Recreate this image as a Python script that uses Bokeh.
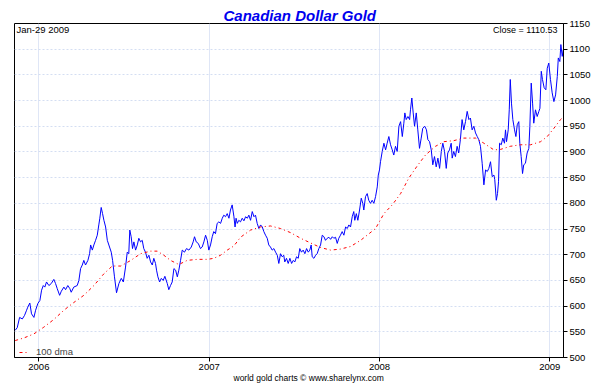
from bokeh.plotting import figure
from bokeh.models import Range1d, FixedTicker, Label, BoxAnnotation, Legend, LegendItem, Title
from bokeh.embed import file_html
from bokeh.resources import INLINE

# ---- data (decimal years, CAD per ounce) ----
t_gold = [2005.861, 2005.873, 2005.887, 2005.903, 2005.916, 2005.928, 2005.935, 2005.947, 2005.957, 2005.971,
          2005.981, 2005.994, 2006.006, 2006.016, 2006.026, 2006.035, 2006.045, 2006.059, 2006.073, 2006.088,
          2006.098, 2006.108, 2006.122, 2006.132, 2006.147, 2006.157, 2006.170, 2006.182, 2006.190, 2006.205,
          2006.225, 2006.235, 2006.245, 2006.255, 2006.264, 2006.274, 2006.288, 2006.298, 2006.304, 2006.314,
          2006.323, 2006.333, 2006.343, 2006.352, 2006.358, 2006.366, 2006.374, 2006.382, 2006.392, 2006.402,
          2006.413, 2006.425, 2006.433, 2006.444, 2006.456, 2006.470, 2006.484, 2006.496, 2006.509, 2006.519,
          2006.528, 2006.534, 2006.542, 2006.550, 2006.558, 2006.568, 2006.578, 2006.587, 2006.597, 2006.607,
          2006.616, 2006.626, 2006.636, 2006.646, 2006.656, 2006.666, 2006.675, 2006.685, 2006.691, 2006.699,
          2006.709, 2006.719, 2006.730, 2006.740, 2006.754, 2006.763, 2006.773, 2006.783, 2006.793, 2006.803,
          2006.813, 2006.822, 2006.832, 2006.842, 2006.855, 2006.867, 2006.881, 2006.895, 2006.906, 2006.914,
          2006.924, 2006.936, 2006.949, 2006.959, 2006.969, 2006.979, 2006.989, 2006.998, 2007.008, 2007.018,
          2007.027, 2007.037, 2007.047, 2007.057, 2007.067, 2007.077, 2007.086, 2007.096, 2007.106, 2007.116,
          2007.125, 2007.135, 2007.145, 2007.152, 2007.158, 2007.165, 2007.174, 2007.184, 2007.194, 2007.204,
          2007.214, 2007.224, 2007.233, 2007.243, 2007.253, 2007.263, 2007.272, 2007.282, 2007.292, 2007.302,
          2007.312, 2007.321, 2007.331, 2007.341, 2007.350, 2007.360, 2007.370, 2007.380, 2007.390, 2007.400,
          2007.409, 2007.419, 2007.429, 2007.438, 2007.444, 2007.454, 2007.464, 2007.474, 2007.484, 2007.494,
          2007.503, 2007.513, 2007.523, 2007.532, 2007.542, 2007.552, 2007.562, 2007.572, 2007.582, 2007.591,
          2007.599, 2007.605, 2007.615, 2007.625, 2007.634, 2007.644, 2007.654, 2007.664, 2007.674, 2007.683,
          2007.693, 2007.703, 2007.713, 2007.723, 2007.732, 2007.742, 2007.752, 2007.761, 2007.771, 2007.781,
          2007.791, 2007.801, 2007.811, 2007.820, 2007.830, 2007.840, 2007.849, 2007.855, 2007.864, 2007.873,
          2007.883, 2007.893, 2007.902, 2007.908, 2007.918, 2007.928, 2007.937, 2007.947, 2007.957, 2007.967,
          2007.977, 2007.987, 2007.993, 2008.000, 2008.006, 2008.016, 2008.026, 2008.036, 2008.045, 2008.055,
          2008.065, 2008.075, 2008.084, 2008.094, 2008.104, 2008.114, 2008.124, 2008.134, 2008.143, 2008.149,
          2008.157, 2008.167, 2008.177, 2008.182, 2008.190, 2008.198, 2008.206, 2008.216, 2008.225, 2008.235,
          2008.245, 2008.254, 2008.266, 2008.276, 2008.284, 2008.294, 2008.304, 2008.313, 2008.323, 2008.333,
          2008.343, 2008.353, 2008.363, 2008.372, 2008.382, 2008.392, 2008.401, 2008.411, 2008.421, 2008.427,
          2008.436, 2008.446, 2008.456, 2008.465, 2008.475, 2008.485, 2008.495, 2008.505, 2008.515, 2008.525,
          2008.534, 2008.544, 2008.554, 2008.564, 2008.574, 2008.583, 2008.593, 2008.603, 2008.613, 2008.623,
          2008.633, 2008.642, 2008.652, 2008.662, 2008.672, 2008.677, 2008.686, 2008.693, 2008.699, 2008.705,
          2008.715, 2008.724, 2008.734, 2008.740, 2008.746, 2008.756, 2008.762, 2008.768, 2008.775, 2008.783,
          2008.793, 2008.801, 2008.809, 2008.818, 2008.824, 2008.832, 2008.840, 2008.847, 2008.857, 2008.867,
          2008.877, 2008.883, 2008.891, 2008.899, 2008.906, 2008.916, 2008.926, 2008.936, 2008.942, 2008.950,
          2008.957, 2008.967, 2008.977, 2008.985, 2008.994, 2009.004, 2009.014, 2009.024, 2009.034, 2009.044,
          2009.050, 2009.059, 2009.065, 2009.073, 2009.079]
v_gold = [553, 558, 578, 575, 582, 592, 598, 606, 585, 578,
          592, 605, 611, 631, 640, 637, 647, 640, 644, 652,
          644, 634, 621, 629, 637, 632, 640, 634, 627, 637,
          640, 650, 673, 680, 689, 680, 689, 702, 719, 709,
          719, 728, 738, 758, 771, 792, 780, 767, 754, 728,
          717, 705, 689, 657, 626, 644, 654, 647, 676, 705,
          702, 748, 735, 712, 725, 709, 719, 732, 725, 728,
          712, 705, 693, 699, 686, 680, 693, 683, 670, 657,
          647, 654, 650, 658, 644, 632, 640, 647, 673, 670,
          657, 670, 689, 709, 705, 712, 709, 715, 725, 735,
          725, 722, 712, 715, 725, 738, 728, 709, 719, 735,
          745, 741, 761, 764, 761, 771, 777, 774, 780, 771,
          787, 797, 775, 754, 771, 761, 767, 764, 771, 766,
          774, 771, 777, 767, 784, 774, 777, 761, 751, 758,
          754, 745, 738, 732, 719, 715, 709, 712, 705, 699,
          683, 702, 696, 699, 686, 693, 683, 693, 683, 689,
          686, 696, 693, 712, 705, 709, 702, 712, 705, 709,
          719, 696, 693, 699, 702, 712, 719, 738, 735, 728,
          732, 734, 730, 735, 732, 734, 722, 732, 738, 745,
          738, 754, 751, 758, 754, 774, 784, 767, 780, 767,
          787, 810, 800, 787, 813, 819, 806, 800, 806, 800,
          813, 832, 855, 865, 881, 901, 917, 904, 917, 930,
          914, 904, 894, 911, 901, 950, 959, 930, 956, 976,
          963, 969, 963, 982, 1005, 976, 950, 976, 943, 907,
          927, 946, 950, 943, 924, 920, 904, 875, 891, 871,
          888, 868, 901, 917, 901, 868, 898, 904, 917, 888,
          901, 891, 911, 898, 924, 963, 943, 959, 979, 963,
          966, 943, 950, 937, 930, 924, 911, 878, 836, 865,
          862, 868, 881, 852, 855, 846, 806, 819, 842, 917,
          914, 927, 917, 943, 920, 943, 982, 1041, 995, 963,
          943, 930, 953, 959, 917, 891, 858, 875, 878, 898,
          907, 950, 1034, 995, 956, 982, 969, 979, 985, 1057,
          1041, 1025, 1021, 1063, 1073, 1041, 1015, 998, 1011, 1047,
          1083, 1076, 1109, 1086, 1099]

t_dma = [2005.861, 2005.912, 2005.971, 2006.029, 2006.088, 2006.147, 2006.205, 2006.264, 2006.323, 2006.382,
         2006.431, 2006.481, 2006.540, 2006.597, 2006.656, 2006.695, 2006.734, 2006.773, 2006.822, 2006.871,
         2006.930, 2006.989, 2007.027, 2007.067, 2007.106, 2007.145, 2007.184, 2007.243, 2007.302, 2007.360,
         2007.419, 2007.478, 2007.537, 2007.595, 2007.654, 2007.713, 2007.771, 2007.830, 2007.889, 2007.977,
         2008.026, 2008.075, 2008.124, 2008.172, 2008.222, 2008.270, 2008.329, 2008.378, 2008.436, 2008.495,
         2008.564, 2008.613, 2008.672, 2008.711, 2008.768, 2008.828, 2008.887, 2008.946, 2008.985, 2009.024,
         2009.063, 2009.079]
v_dma = [533, 538, 546, 559, 574, 592, 607, 621, 640, 663,
         678, 678, 689, 702, 707, 707, 699, 689, 681, 689,
         691, 691, 693, 699, 709, 717, 734, 748, 754, 756,
         751, 743, 732, 723, 714, 709, 711, 716, 728, 751,
         780, 797, 819, 849, 873, 894, 911, 920, 922, 927,
         927, 917, 904, 905, 911, 914, 914, 920, 930, 946,
         963, 968]

year_ticks = [2006, 2007, 2008, 2009]
year_labels = ["2006", "2007", "2008", "2009"]
price_ticks = list(range(500, 1151, 50))

title_text = "Canadian Dollar Gold"
date_text = "Jan-29 2009"
close_text = "Close = 1110.53"
credit_text = "world gold charts \u00a9 www.sharelynx.com"
legend_text = "100 dma"

FONT = "'Liberation Sans Narrow', 'Liberation Sans', Arial, sans-serif"

p = figure(frame_width=549, frame_height=334,
           min_border_left=14, min_border_right=30, min_border_top=23, min_border_bottom=31,
           x_range=Range1d(2005.857, 2009.0805), y_range=Range1d(500, 1150),
           y_axis_location="right", output_backend="svg", toolbar_location=None,
           background_fill_color="white", border_fill_color="white")

p.outline_line_color = "black"
p.outline_line_width = 1

# title (above, left-aligned with an offset to sit where the original does)
p.title.text = title_text
p.title.align = "left"
p.title.offset = 209
p.title.standoff = 0
p.title.text_color = "#0000ee"
p.title.text_font = "'Liberation Sans', Arial, sans-serif"
p.title.text_font_style = "bold italic"
p.title.text_font_size = "15px"

# credit line below the axis
p.add_layout(Title(text=credit_text, align="left", offset=219, standoff=-3,
                   text_font=FONT, text_font_size="8.5px", text_font_style="normal",
                   text_color="black"), "below")

# axes
p.xaxis.ticker = FixedTicker(ticks=year_ticks)
p.xaxis.major_label_overrides = {t: l for t, l in zip(year_ticks, year_labels)}
p.yaxis.ticker = FixedTicker(ticks=price_ticks)
for ax in (p.xaxis, p.yaxis):
    ax.minor_tick_line_color = None
    ax.major_tick_in = 0
    ax.major_tick_out = 4
    ax.major_tick_line_color = "black"
    ax.axis_line_color = "black"
    ax.major_label_text_font = FONT
    ax.major_label_text_font_size = "9.5px"
    ax.major_label_text_color = "black"
    ax.major_label_standoff = 2

# grids
p.xgrid.grid_line_color = "#dfe6f6"
p.xgrid.grid_line_width = 1
p.ygrid.grid_line_color = "#d4def2"
p.ygrid.grid_line_dash = "2 2"

# series
p.line(t_gold, v_gold, color="#0000ff", line_width=1)
r_dma = p.line(t_dma, v_dma, color="#ff0000", line_width=1, line_dash="3 3 1 3")

legend = Legend(items=[LegendItem(label=legend_text, renderers=[r_dma])],
                location=(5, 0), margin=0, padding=0, glyph_width=10, glyph_height=10,
                label_height=10, label_standoff=7, spacing=0,
                border_line_color=None, background_fill_alpha=0,
                label_text_font=FONT, label_text_font_size="9.5px")
p.add_layout(legend)

# underline of the title (canvas units)
p.add_layout(BoxAnnotation(left=223, right=378, top=20.5, bottom=21.7,
                           left_units="canvas", right_units="canvas",
                           top_units="canvas", bottom_units="canvas",
                           fill_color="#0000ee", fill_alpha=1, line_color=None))

# texts inside the frame
p.add_layout(Label(x=2, y=328, x_units="screen", y_units="screen", text=date_text,
                   text_align="left", text_baseline="middle", text_color="black",
                   text_font=FONT, text_font_size="9.5px"))
p.add_layout(Label(x=543, y=328, x_units="screen", y_units="screen", text=close_text,
                   text_align="right", text_baseline="middle", text_color="black",
                   text_font=FONT, text_font_size="9px"))

open("out.html", "w").write(file_html(p, INLINE))
